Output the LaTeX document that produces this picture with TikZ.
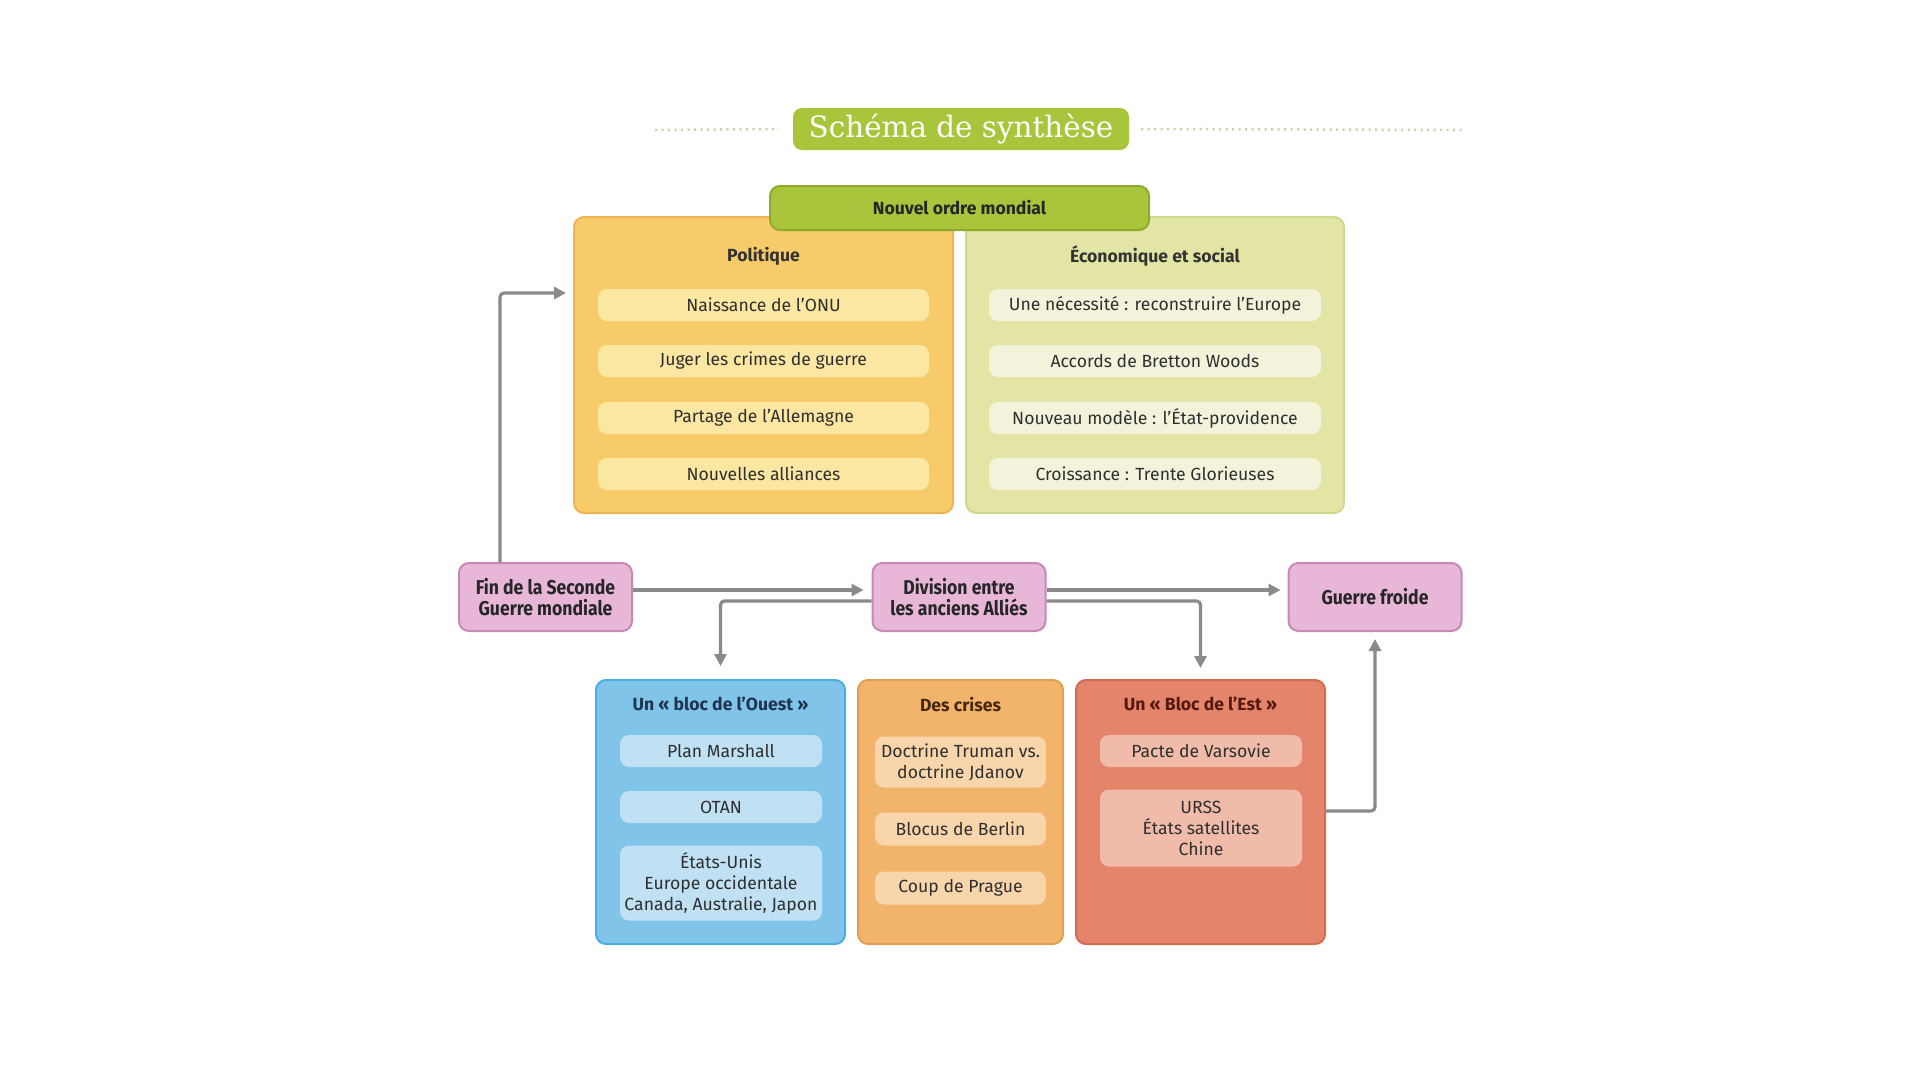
\documentclass[tikz,border=0pt]{standalone}
\usepackage{fontspec}
\setmainfont{Fira Sans}
\newfontfamily\titlefont{DejaVu Serif}
\newfontfamily\condfont{Fira Sans}[FakeStretch=0.88]
\usetikzlibrary{arrows.meta}
\definecolor{txt}{HTML}{2F2F2F}
\definecolor{greenA}{HTML}{A9C53B}
\definecolor{greenB}{HTML}{8FAA2A}
\definecolor{dotc}{HTML}{C9D2A8}
\definecolor{polfill}{HTML}{F7CB6A}
\definecolor{polborder}{HTML}{EDB550}
\definecolor{politem}{HTML}{FBE6A2}
\definecolor{ecofill}{HTML}{E2E5A3}
\definecolor{ecoborder}{HTML}{CDD98B}
\definecolor{ecoitem}{HTML}{F3F3DC}
\definecolor{pinkfill}{HTML}{E8B7D7}
\definecolor{pinkborder}{HTML}{C888B6}
\definecolor{ouestfill}{HTML}{80C4EA}
\definecolor{ouestborder}{HTML}{4BAEE2}
\definecolor{ouestitem}{HTML}{C0E0F4}
\definecolor{crisefill}{HTML}{F2B36B}
\definecolor{criseborder}{HTML}{E19F52}
\definecolor{criseitem}{HTML}{F8D5AA}
\definecolor{estfill}{HTML}{E4846A}
\definecolor{estborder}{HTML}{D46C54}
\definecolor{estitem}{HTML}{F0BBA8}
\definecolor{arrowc}{HTML}{8A8A8A}
\tikzset{
  bigbox/.style={rounded corners=10pt, line width=2pt, inner sep=0pt},
  itembox/.style={rounded corners=9pt, inner sep=0pt, text=txt, font=\fontsize{17.6}{21}\selectfont, align=center},
  hdr/.style={inner sep=0pt, font=\bfseries\fontsize{17.6}{21}\selectfont},
  pinkbox/.style={rounded corners=10pt, line width=2pt, fill=pinkfill, draw=pinkborder, minimum width=173pt, minimum height=68pt, inner sep=0pt, align=center, text=black!85, font=\condfont\bfseries\fontsize{20}{21}\selectfont},
  arr/.style={draw=arrowc, line width=3.2pt, rounded corners=4pt, -{Triangle[length=12pt,width=12pt]}},
  dotline/.style={draw=dotc, line width=2.5pt, dash pattern=on 2pt off 4.5pt}
}
\begin{document}
\begin{tikzpicture}[x=1pt,y=-1pt]
\useasboundingbox (0,0) rectangle (1920,1080);
\fill[white] (0,0) rectangle (1920,1080);
% title
\node[fill=greenA, rounded corners=9pt, minimum width=336pt, minimum height=42pt, inner sep=0pt, text=white, font=\titlefont\fontsize{29.4}{32}\selectfont] (title) at (961,129) {Schéma de synthèse};
\coordinate (dl) at (655,130);
\coordinate (dr) at (1463,130);
\draw[dotline] (dl) -- ([xshift=-14pt]title.west);
\draw[dotline] ([xshift=12pt]title.east) -- (dr);
% upper boxes
\node[bigbox, fill=polfill, draw=polborder, minimum width=379pt, minimum height=296pt] (pol) at (763.5,365) {};
\node[bigbox, fill=ecofill, draw=ecoborder, minimum width=378pt, minimum height=296pt] (eco) at (1155,365) {};
\node[bigbox, fill=greenA, draw=greenB, minimum width=379pt, minimum height=44pt, text=black!85, font=\bfseries\fontsize{17.6}{21}\selectfont] (nom) at (959.5,208) {Nouvel ordre mondial};
\node[hdr, text=black!80] (polt) at (763.5,256) {Politique};
\node[itembox, fill=politem, minimum width=331pt, minimum height=32pt] (p1) at (763.5,305) {Naissance de l’ONU};
\node[itembox, fill=politem, minimum width=331pt, minimum height=32pt] (p2) at (763.5,361) {Juger les crimes de guerre};
\node[itembox, fill=politem, minimum width=331pt, minimum height=32pt] (p3) at (763.5,418) {Partage de l’Allemagne};
\node[itembox, fill=politem, minimum width=331pt, minimum height=32pt] (p4) at (763.5,474) {Nouvelles alliances};
\node[hdr, text=black!80] (ecot) at (1155,256) {Économique et social};
\node[itembox, fill=ecoitem, minimum width=332pt, minimum height=32pt] (e1) at (1155,305) {Une nécessité : reconstruire l’Europe};
\node[itembox, fill=ecoitem, minimum width=332pt, minimum height=32pt] (e2) at (1155,361) {Accords de Bretton Woods};
\node[itembox, fill=ecoitem, minimum width=332pt, minimum height=32pt] (e3) at (1155,418) {Nouveau modèle : l’État-providence};
\node[itembox, fill=ecoitem, minimum width=332pt, minimum height=32pt] (e4) at (1155,474) {Croissance : Trente Glorieuses};
% pink row
\node[pinkbox] (fin) at (545.5,597) {Fin de la Seconde\\Guerre mondiale};
\node[pinkbox] (div) at (959,597) {Division entre\\les anciens Alliés};
\node[pinkbox] (gf) at (1375,597) {Guerre froide};
% bottom boxes
\node[bigbox, fill=ouestfill, draw=ouestborder, minimum width=249pt, minimum height=264pt] (ouest) at (720.5,812) {};
\node[bigbox, fill=crisefill, draw=criseborder, minimum width=205pt, minimum height=264pt] (crise) at (960.5,812) {};
\node[bigbox, fill=estfill, draw=estborder, minimum width=249pt, minimum height=264pt] (est) at (1200.5,812) {};
\node[hdr, text={rgb,255:red,30;green,52;blue,80}] (ouestt) at (720.5,704) {Un « bloc de l’Ouest »};
\node[itembox, fill=ouestitem, minimum width=202pt, minimum height=32pt] (o1) at (721,751) {Plan Marshall};
\node[itembox, fill=ouestitem, minimum width=202pt, minimum height=32pt] (o2) at (721,807) {OTAN};
\node[itembox, fill=ouestitem, minimum width=202pt, minimum height=75pt] (o3) at (721,883) {États-Unis\\Europe occidentale\\Canada, Australie, Japon};
\node[hdr, text={rgb,255:red,70;green,40;blue,15}] (criset) at (960.5,704) {Des crises};
\node[itembox, fill=criseitem, minimum width=171pt, minimum height=51pt] (c1) at (960.5,762) {Doctrine Truman vs.\\doctrine Jdanov};
\node[itembox, fill=criseitem, minimum width=171pt, minimum height=33pt] (c2) at (960.5,829) {Blocus de Berlin};
\node[itembox, fill=criseitem, minimum width=171pt, minimum height=33pt] (c3) at (960.5,888) {Coup de Prague};
\node[hdr, text={rgb,255:red,85;green,25;blue,15}] (estt) at (1200.5,704) {Un « Bloc de l’Est »};
\node[itembox, fill=estitem, minimum width=202pt, minimum height=32pt] (s1) at (1201,751) {Pacte de Varsovie};
\node[itembox, fill=estitem, minimum width=202pt, minimum height=77pt] (s2) at (1201,828) {URSS\\États satellites\\Chine};
% arrows
\coordinate (r1) at (0,590);
\coordinate (r2) at (0,601);
\coordinate (r3) at (0,811);
\coordinate (fx) at (500,0);
\coordinate (py) at (0,293);
\draw[arr, shorten >=7pt] (fin.north -| fx) |- (pol.west |- py);
\draw[arr, shorten >=8pt] (fin.east |- r1) -- (div.west |- r1);
\draw[arr, shorten >=7pt] (div.east |- r1) -- (gf.west |- r1);
\draw[arr, shorten >=13pt] (div.west |- r2) -| (ouest.north);
\draw[arr, shorten >=11pt] (div.east |- r2) -| (est.north);
\draw[arr, shorten >=7pt] (est.east |- r3) -| (gf.south);
\end{tikzpicture}
\end{document}
